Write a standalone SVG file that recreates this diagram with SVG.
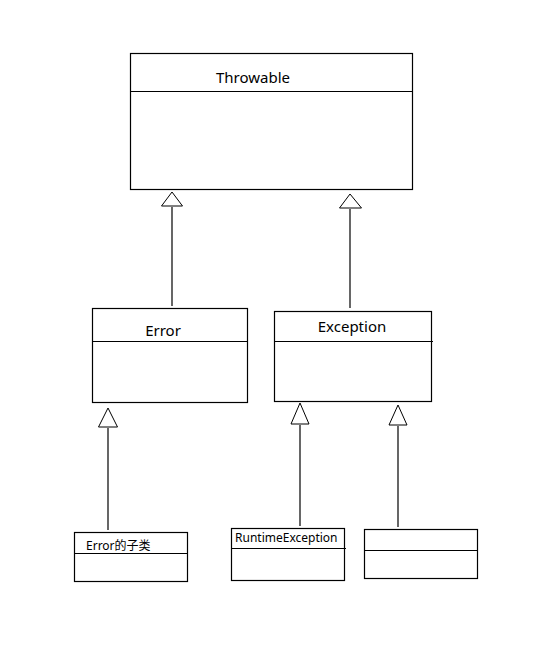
<svg xmlns="http://www.w3.org/2000/svg" width="541" height="649" viewBox="0 0 541 649">
<style>
.box{fill:#fff;stroke:#000;stroke-width:1.2}
.div{stroke:#000;stroke-width:1.2;fill:none}
.t{font-family:"Noto Sans","Noto Sans CJK SC",sans-serif;fill:#000}
.big{font-size:15px}
.sm{font-size:12px}
.edge{stroke:#000;stroke-width:1.2;fill:none}
.head{fill:#fff;stroke:#000;stroke-width:1}
</style>
<rect width="541" height="649" fill="#fff"/>
<g id="connectors">
<line class="edge" x1="172" y1="207" x2="172" y2="306"/>
<polygon class="head" points="172,192 161.5,206 182.5,206"/>
<line class="edge" x1="350" y1="209" x2="350" y2="308"/>
<polygon class="head" points="350,194 339.5,208 361.5,208"/>
<line class="edge" x1="108" y1="428" x2="108" y2="530"/>
<polygon class="head" points="108,408 98.5,427 117.5,427"/>
<line class="edge" x1="300" y1="425" x2="300" y2="526"/>
<polygon class="head" points="300,403 291,424 309,424"/>
<line class="edge" x1="398" y1="426" x2="398" y2="527"/>
<polygon class="head" points="398,405 389,425 407,425"/>
</g>
<g id="throwable">
<rect class="box" x="130.5" y="53.5" width="282" height="136"/>
<line class="div" x1="130.5" y1="91.5" x2="412.5" y2="91.5"/>
<text class="t big" x="253" y="83" text-anchor="middle">Throwable</text>
</g>
<g id="error">
<rect class="box" x="92.5" y="308.5" width="155" height="94"/>
<line class="div" x1="92.5" y1="341.5" x2="247.5" y2="341.5"/>
<text class="t big" x="163" y="336" text-anchor="middle">Error</text>
</g>
<g id="exception">
<rect class="box" x="274.5" y="311.5" width="157" height="90"/>
<line class="div" x1="274.5" y1="341.5" x2="433" y2="341.5"/>
<text class="t big" x="352" y="332" text-anchor="middle">Exception</text>
</g>
<g id="error-sub">
<rect class="box" x="74.5" y="532.5" width="113" height="49"/>
<line class="div" x1="74.5" y1="553.5" x2="187.5" y2="553.5"/>
<text class="t sm" x="86" y="550">Error的子类</text>
</g>
<g id="runtime">
<rect class="box" x="231.5" y="528.5" width="113" height="52"/>
<line class="div" x1="231.5" y1="548.5" x2="346" y2="548.5"/>
<text class="t sm" x="235" y="542">RuntimeException</text>
</g>
<g id="empty">
<rect class="box" x="364.5" y="529.5" width="113" height="49"/>
<line class="div" x1="364.5" y1="550.5" x2="477.5" y2="550.5"/>
</g>
</svg>
